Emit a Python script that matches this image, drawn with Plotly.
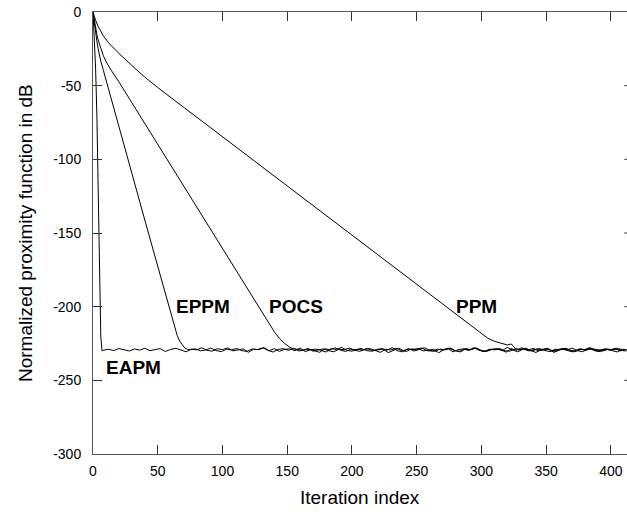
import plotly.graph_objects as go

# ---- data ----
eapm_iters = [0, 1, 2, 3, 4, 5, 6, 7]
eapm_vals = [0, -18, -38, -70, -118, -175, -220, -230]
eapm_floor_start = 8
eapm_floor = [
    -229.6, -228.9, -229.8, -228.4, -229.2, -230.1, -228.7, -229.5, -228.2, -229.9,
    -229.1, -228.5, -230.4, -229.0, -228.3, -229.7, -230.6, -228.8, -229.3, -227.9,
    -229.6, -230.2, -228.6, -229.1, -228.0, -230.0, -229.4, -228.7, -231.0, -228.9,
    -229.2, -227.8, -229.9, -228.5, -230.3, -229.0, -228.6, -229.8, -228.1, -230.5,
    -229.3, -228.8, -229.6, -230.8, -228.4, -229.1, -227.6, -229.7, -230.2, -228.9,
    -229.4, -228.3, -230.0, -229.2, -228.7, -231.2, -229.5, -228.2, -229.8, -228.6,
    -230.1, -229.0, -227.9, -229.6, -230.4, -228.8, -229.3, -228.1, -229.9, -230.7,
    -228.5, -229.2, -228.0, -229.7, -230.3, -229.1, -228.6, -229.8, -227.7, -229.4,
    -230.6, -228.9, -229.5, -228.3, -230.0, -229.2, -228.7, -231.1, -229.0, -228.4,
    -229.8, -230.2, -228.6, -229.3, -227.8, -229.9, -230.5, -228.9, -229.4, -228.2,
    -229.7, -230.1,
]

eppm_iters = [0, 1, 2, 3, 4, 5, 6, 8, 10, 20, 30, 40, 50, 60, 63, 65, 67, 69, 71, 73]
eppm_vals = [0, -8, -14.5, -20, -25, -29.5, -33.3, -39.6, -45.8, -77.6, -109.4,
             -141.2, -173, -204.8, -214.2, -219.5, -223.5, -226.3, -228.2, -229.0]
eppm_floor_start = 75
eppm_floor = [
    -229.2, -228.6, -230.0, -229.4, -228.1, -229.8, -230.5, -228.9, -229.3, -228.4,
    -229.9, -230.3, -228.7, -229.1, -227.9, -229.6, -230.8, -229.0, -228.5, -229.7,
    -228.2, -230.1, -229.4, -228.8, -229.9, -231.0, -228.6, -229.2, -228.0, -229.5,
    -230.4, -228.9, -229.3, -228.3, -229.8, -230.2, -229.0, -228.5, -229.6, -227.8,
    -229.9, -230.6, -228.7, -229.2, -228.4, -230.0, -229.5, -228.9, -231.3, -229.1,
    -228.2, -229.7, -230.3, -228.6, -229.4, -228.0, -229.8, -230.5, -229.0, -228.7,
    -229.3, -230.9, -228.5, -229.6, -227.9, -229.2, -230.1, -228.8, -229.5, -228.3,
    -230.4, -229.1, -228.6, -229.9, -230.7, -228.9, -229.3, -228.1, -229.7, -230.2,
    -228.8, -229.4, -228.5, -230.0, -229.2,
]

pocs_iters = [0, 1, 2, 3, 4, 6, 8, 10, 14, 20, 40, 60, 80, 100, 120, 135, 140, 144,
              148, 152, 155]
pocs_vals = [0, -6, -11, -15.3, -19, -25, -29.7, -33.5, -39.5, -47.4, -75.7, -104,
             -132.4, -160.7, -189, -210.3, -217, -221.6, -225, -227.5, -228.8]
pocs_floor_start = 158
pocs_floor = [
    -229.0, -229.7, -228.4, -230.2, -229.3, -228.7, -229.9, -230.6, -228.8, -229.2,
    -228.1, -229.6, -230.3, -229.0, -228.5, -229.8, -231.0, -228.9, -229.4, -228.2,
    -229.7, -230.4, -228.6, -229.1, -228.0, -229.9, -230.1, -228.8, -229.5, -228.3,
    -230.7, -229.2, -228.6, -229.8, -227.8, -229.4, -230.5, -228.9, -229.3, -228.4,
    -229.9, -230.2, -228.7, -229.0, -228.2, -229.6, -231.1, -229.1, -228.5, -229.7,
    -230.3, -228.8, -229.4, -228.1, -229.8, -230.6, -229.0, -228.6, -229.5, -230.0,
    -228.9, -229.3, -228.4, -229.9,
]

ppm_iters = [0, 1, 2, 4, 6, 8, 12, 16, 20, 30, 40, 50, 100, 150, 200, 250, 280, 300,
             305, 310, 316, 320, 323, 326]
ppm_vals = [0, -3, -5.6, -9.8, -13.3, -16.2, -20.9, -24.7, -28.1, -36.3, -44.2,
            -51.3, -84.7, -118.2, -151.7, -185.2, -205.3, -218.7, -221.5, -223.5,
            -225, -226, -225.3, -228.2]
ppm_floor_start = 329
ppm_floor = [
    -229.4, -228.7, -230.1, -229.0, -228.5, -229.8, -230.5, -228.9, -229.3, -228.2,
    -229.7, -230.3, -228.8, -229.5, -228.4, -230.0, -229.1, -228.6, -229.9, -230.7,
    -228.9, -229.4,
]
floor_step = 4

labels = ["EAPM", "EPPM", "POCS", "PPM"]
label_x = [31.5, 85, 156.5, 296.5]
label_y = [-241.5, -200, -200, -200]

x_ticks = [0, 50, 100, 150, 200, 250, 300, 350, 400]
y_ticks = [0, -50, -100, -150, -200, -250, -300]
x_title = "Iteration index"
y_title = "Normalized proximity function in dB"

series = [
    (eapm_iters, eapm_vals, eapm_floor_start, eapm_floor),
    (eppm_iters, eppm_vals, eppm_floor_start, eppm_floor),
    (pocs_iters, pocs_vals, pocs_floor_start, pocs_floor),
    (ppm_iters, ppm_vals, ppm_floor_start, ppm_floor),
]

FONT = "Arial, 'Liberation Sans', sans-serif"
fig = go.Figure()
for name, (it, vals, fs, fl) in zip(labels, series):
    xs = list(it) + list(range(fs, fs + floor_step * len(fl), floor_step))
    ys = list(vals) + list(fl)
    fig.add_trace(go.Scatter(x=xs, y=ys, mode="lines", name=name,
                             line=dict(color="black", width=1), showlegend=False))

for t, lx, ly in zip(labels, label_x, label_y):
    fig.add_annotation(x=lx, y=ly, text="<b>%s</b>" % t, showarrow=False,
                       font=dict(family=FONT, size=19, color="black"))

# axis titles placed as annotations for exact positioning
fig.add_annotation(xref="paper", yref="paper", x=0.5, y=0, yanchor="middle",
                   yshift=-43, text=x_title, showarrow=False,
                   font=dict(family=FONT, size=19, color="black"))
fig.add_annotation(xref="paper", yref="paper", x=0, y=0.5, xanchor="center",
                   xshift=-68, text=y_title, textangle=-90, showarrow=False,
                   font=dict(family=FONT, size=19, color="black"))

# short tick marks on the (cut-off) right border
for yt in y_ticks[1:-1]:
    fig.add_shape(type="line", xref="paper", yref="y", x0=0.995, x1=1.0,
                  y0=yt, y1=yt, line=dict(color="#333", width=1))

fig.update_layout(
    width=627, height=514,
    margin=dict(l=93, r=0, t=12, b=60, autoexpand=False),
    paper_bgcolor="white", plot_bgcolor="white",
    font=dict(family=FONT, color="black"),
)
fig.update_xaxes(
    range=[0, 412.4], tickvals=x_ticks, ticktext=[str(v) for v in x_ticks],
    ticks="inside", ticklen=9, automargin=False,
    tickcolor="#333", showline=True, linecolor="#555", linewidth=1,
    mirror="ticks", showgrid=False, zeroline=False,
    tickfont=dict(size=14, family=FONT), ticklabelstandoff=4,
)
fig.update_yaxes(
    range=[-300, 0], tickvals=y_ticks, ticktext=[str(v) for v in y_ticks],
    ticks="inside", ticklen=9, automargin=False,
    tickcolor="#333", showline=True, linecolor="#555", linewidth=1,
    mirror=False, showgrid=False, zeroline=False,
    tickfont=dict(size=14, family=FONT), ticklabelstandoff=8,
)

fig.write_html("out.html", config={"displayModeBar": False},
               post_script="document.body.style.margin='0';")
